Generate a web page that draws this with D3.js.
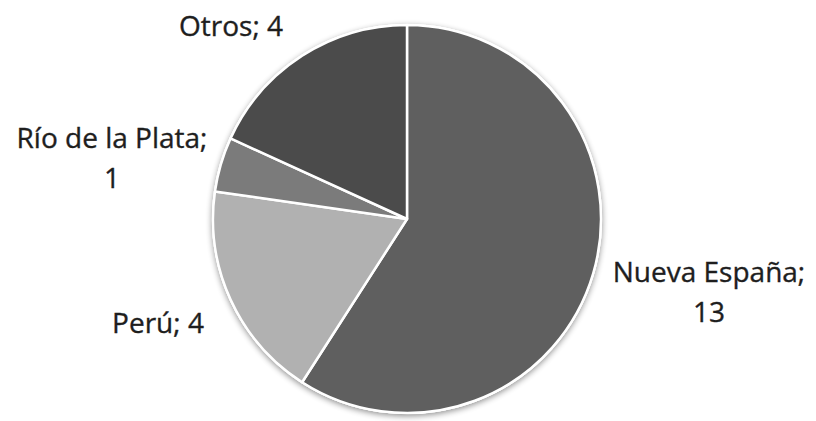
<!DOCTYPE html>
<html>
<head>
<meta charset="utf-8">
<script src="https://cdn.jsdelivr.net/npm/d3@7"></script>
<style>
  body { margin: 0; background: #fff; }
  text { font-family: "Open Sans", sans-serif; fill: #1e1e1e; stroke: #1e1e1e; stroke-width: 0.35px; }
</style>
</head>
<body>
<svg id="chart" width="816" height="421"></svg>
<script>
// Pie data, clockwise from 12 o'clock
var regions = ["Nueva España", "Perú", "Río de la Plata", "Otros"];
var counts = [13, 4, 1, 4];
var shades = ["#5f5f5f", "#b1b1b1", "#7b7b7b", "#4b4b4b"];

// label lines and anchor points (px)
var labelLines = [["Nueva España;", "13"], ["Perú; 4"], ["Río de la Plata;", "1"], ["Otros; 4"]];
var labelPos = [[709, 272], [158, 323], [112, 138], [231, 26]];

var svg = d3.select("#chart"),
    cx = 407, cy = 219, r = 194;

var defs = svg.append("defs");
var f = defs.append("filter").attr("id", "shadow")
    .attr("x", "-10%").attr("y", "-10%").attr("width", "120%").attr("height", "120%");
f.append("feGaussianBlur").attr("in", "SourceAlpha").attr("stdDeviation", 3);
f.append("feOffset").attr("dx", 0).attr("dy", 2).attr("result", "b");
f.append("feComponentTransfer").append("feFuncA").attr("type", "linear").attr("slope", 0.45);
var m = f.append("feMerge");
m.append("feMergeNode");
m.append("feMergeNode").attr("in", "SourceGraphic");

var pie = d3.pie().sort(null).value(function (d) { return d; });
var arc = d3.arc().innerRadius(0).outerRadius(r);

var g = svg.append("g").attr("transform", "translate(" + cx + "," + cy + ")");

g.append("circle").attr("r", r + 1).attr("fill", "#fff").attr("filter", "url(#shadow)");

g.selectAll("path")
    .data(pie(counts))
    .enter().append("path")
    .attr("d", arc)
    .attr("fill", function (d, i) { return shades[i]; })
    .attr("stroke", "#fff")
    .attr("stroke-width", 2.5)
    .attr("stroke-linejoin", "round");

var labels = svg.selectAll("text.lbl")
    .data(labelLines)
    .enter().append("text")
    .attr("class", "lbl")
    .attr("text-anchor", "middle")
    .attr("font-size", 28);

labels.each(function (lines, i) {
    var t = d3.select(this);
    lines.forEach(function (s, j) {
        t.append("tspan")
            .attr("x", labelPos[i][0])
            .attr("y", labelPos[i][1] + j * 40)
            .attr("dy", "0.35em")
            .text(s);
    });
});
</script>
</body>
</html>
